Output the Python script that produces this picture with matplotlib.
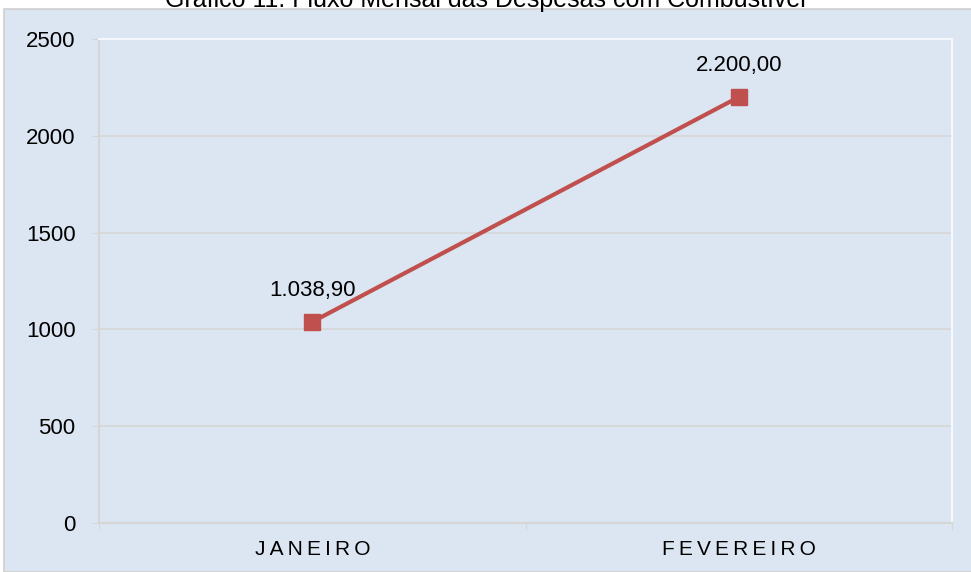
import matplotlib.pyplot as plt
from matplotlib.patches import Rectangle

plt.rcParams['font.family'] = ['Liberation Sans', 'DejaVu Sans']

# Data
months = ["JANEIRO", "FEVEREIRO"]
values = [1038.90, 2200.00]
labels = ["1.038,90", "2.200,00"]
yticks = [0, 500, 1000, 1500, 2000, 2500]

bg = "#dce6f2"
line_color = "#c0504d"
grid_color = "#d6d6d6"

fig = plt.figure(figsize=(9.71, 5.72), dpi=100)

# Chart area background panel
panel = Rectangle((4 / 971, 0), 1, 1 - 9 / 572, transform=fig.transFigure,
                  facecolor=bg, edgecolor="#cfcfcf", linewidth=1.2, zorder=-10)
fig.patches.append(panel)

# Title (partly cut off at the top, as in the source)
fig.text(0.5, 1 - 7 / 572, "Gráfico 11: Fluxo Mensal das Despesas com Combustível",
         ha="center", va="baseline", fontsize=18, zorder=5)

ax = fig.add_axes([99 / 971, 1 - 523 / 572, (952 - 99) / 971, (523 - 39) / 572])
ax.set_facecolor(bg)

x = [i + 0.5 for i in range(len(months))]
ax.plot(x, values, color=line_color, linewidth=3, marker="s", markersize=12,
        zorder=3)
for xi, v, lab in zip(x, values, labels):
    ax.annotate(lab, (xi, v), xytext=(0, 15), textcoords="offset points",
                ha="center", va="bottom", fontsize=16)

ax.set_xlim(0, len(months))
ax.set_ylim(0, 2500)
ax.set_yticks(yticks)
ax.set_yticklabels([str(t) for t in yticks], fontsize=16)
ax.set_xticks(range(len(months) + 1))
ax.set_xticklabels([])
ax.set_xticks(x, minor=True)
# wide letter spacing as in the source (thin spaces)
ax.set_xticklabels(["\u2009".join(m) for m in months], minor=True, fontsize=15)
ax.tick_params(axis="x", which="minor", length=0, pad=12)
ax.tick_params(axis="x", which="major", length=5, color=grid_color, direction="out")
ax.tick_params(axis="y", length=5, color=grid_color, pad=12)

ax.yaxis.grid(True, color=grid_color, linewidth=1.2)
ax.set_axisbelow(True)
for s in ["left", "bottom"]:
    ax.spines[s].set_color(grid_color)
    ax.spines[s].set_linewidth(1.5)
for s in ["top", "right"]:
    ax.spines[s].set_color("#f4f7fb")
    ax.spines[s].set_linewidth(1.5)

fig.savefig("out.png", dpi=100)
